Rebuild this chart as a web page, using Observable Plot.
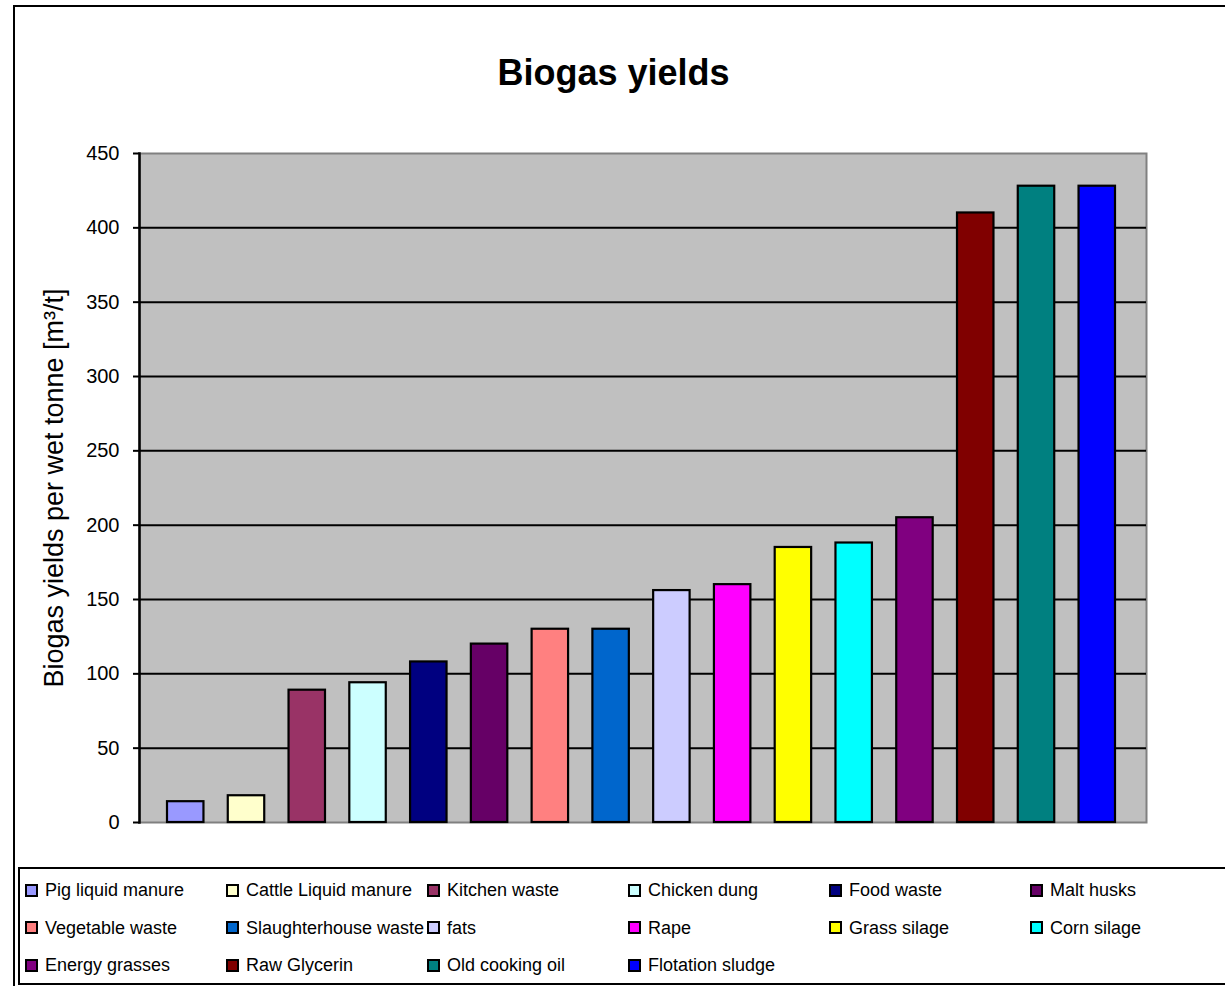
<!DOCTYPE html>
<html>
<head>
<meta charset="utf-8">
<script src="https://cdn.jsdelivr.net/npm/d3@7"></script>
<script src="https://cdn.jsdelivr.net/npm/@observablehq/plot@0.6"></script>
<style>
  html, body { margin: 0; padding: 0; background: #fff; }
  #page {
    position: relative; width: 1225px; height: 986px; overflow: hidden;
    font-family: "Liberation Sans", Arial, sans-serif; color: #000;
  }
  #outer { position: absolute; left: 13px; top: 5px; width: 1300px; height: 1100px; border: 2px solid #000; }
  #title {
    position: absolute; left: 0; top: 53px; width: 1227px; text-align: center;
    font-size: 36px; font-weight: bold; line-height: 40px;
  }
  #chart { position: absolute; left: 0; top: 120px; }
  #legend { position: absolute; left: 18px; top: 867px; width: 1300px; height: 114px; border: 2px solid #000; }
  .item { position: absolute; display: flex; align-items: center; font-size: 18px; line-height: 20px; white-space: nowrap; }
  .swatch { width: 9px; height: 9px; border: 2px solid #000; margin-right: 7px; flex: none; }
</style>
</head>
<body>
<div id="page">
  <div id="outer"></div>
  <div id="title">Biogas yields</div>
  <div id="chart"></div>
  <div id="legend"></div>
</div>
<script>
// Substrates, their biogas yields (m³ per wet tonne) and bar colours
const substrates = [
  "Pig liquid manure", "Cattle Liquid manure", "Kitchen waste", "Chicken dung",
  "Food waste", "Malt husks", "Vegetable waste", "Slaughterhouse waste",
  "fats", "Rape", "Grass silage", "Corn silage",
  "Energy grasses", "Raw Glycerin", "Old cooking oil", "Flotation sludge"
];
const yields = [14, 18, 89, 94, 108, 120, 130, 130, 156, 160, 185, 188, 205, 410, 428, 428];
const colors = [
  "#9999FF", "#FFFFCC", "#993366", "#CCFFFF",
  "#000080", "#660066", "#FF8080", "#0066CC",
  "#CCCCFF", "#FF00FF", "#FFFF00", "#00FFFF",
  "#800080", "#800000", "#008080", "#0000FF"
];
const yTicks = [0, 50, 100, 150, 200, 250, 300, 350, 400, 450];
const gridValues = [50, 100, 150, 200, 250, 300, 350, 400];
const yLabel = "Biogas yields per wet tonne [m³/t]";

const rows = substrates.map((name, i) => ({name, value: yields[i], color: colors[i]}));

const chart = Plot.plot({
  width: 1225,
  height: 730,
  marginLeft: 139,
  marginRight: 79,
  marginTop: 33,
  marginBottom: 28,
  style: {fontFamily: "'Liberation Sans', Arial, sans-serif", background: "transparent", color: "#000"},
  x: {type: "band", domain: substrates, range: [167, 1115], paddingInner: 0.4, paddingOuter: 0, round: false, axis: null},
  y: {domain: [0, 450], axis: null},
  marks: [
    Plot.frame({fill: "#C0C0C0", stroke: "#808080", strokeWidth: 2}),
    Plot.gridY(gridValues, {stroke: "#000", strokeOpacity: 1, strokeWidth: 2}),
    Plot.barY(rows, {x: "name", y: "value", fill: "color", stroke: "#000", strokeWidth: 2.2}),
    Plot.frame({anchor: "left", stroke: "#000", strokeWidth: 2.5}),
    Plot.axisY({ticks: yTicks, tickSize: 6, tickPadding: 14, fontSize: 20, stroke: "#000", strokeWidth: 2, label: null}),
    Plot.text([yLabel], {frameAnchor: "left", textAnchor: "middle", rotate: -90, dx: -85, fontSize: 27, fill: "#000"})
  ]
});
document.getElementById("chart").appendChild(chart);

// Legend: six columns, read row by row
const legend = d3.select("#page");
rows.forEach((d, i) => {
  const col = i % 6, row = Math.floor(i / 6);
  const item = legend.append("div").attr("class", "item")
    .style("left", (25 + col * 201) + "px")
    .style("top", (880 + row * 37.5) + "px");
  item.append("div").attr("class", "swatch").style("background", d.color);
  item.append("span").text(d.name);
});
</script>
</body>
</html>
